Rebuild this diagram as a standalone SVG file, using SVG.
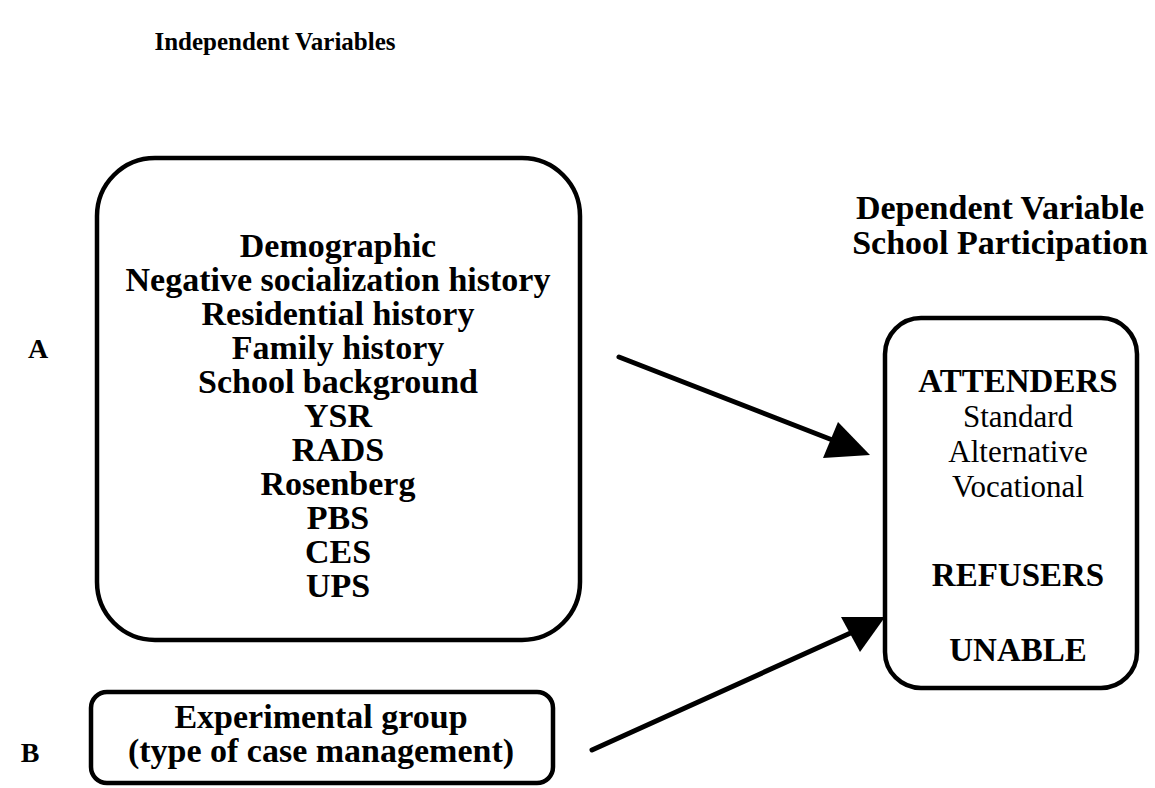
<svg xmlns="http://www.w3.org/2000/svg" width="1155" height="788" viewBox="0 0 1155 788">
<style>
.box{fill:none;stroke:#000;stroke-width:4.5}
.con{stroke:#000;stroke-width:5;fill:none;stroke-linecap:round}
.b{font-family:"Liberation Serif","Times New Roman",serif;font-weight:bold;fill:#000;text-anchor:middle}
.r{font-family:"Liberation Serif","Times New Roman",serif;fill:#000;text-anchor:middle}
</style>
<rect width="1155" height="788" fill="#fff"/>
<text class="b" x="275" y="50" font-size="25">Independent Variables</text>
<text class="b" x="1000" y="219" font-size="34">Dependent Variable</text>
<text class="b" x="1000" y="254" font-size="34">School Participation</text>
<text class="b" x="38" y="358" font-size="28">A</text>
<text class="b" x="30" y="762" font-size="28">B</text>
<g id="nodeA">
<rect class="box" x="97" y="158" width="483" height="482" rx="58" ry="58"/>
<g class="b" font-size="34">
<text x="338" y="257">Demographic</text>
<text x="338" y="291">Negative socialization history</text>
<text x="338" y="325">Residential history</text>
<text x="338" y="359">Family history</text>
<text x="338" y="393">School background</text>
<text x="338" y="427">YSR</text>
<text x="338" y="461">RADS</text>
<text x="338" y="495">Rosenberg</text>
<text x="338" y="529">PBS</text>
<text x="338" y="563">CES</text>
<text x="338" y="597">UPS</text>
</g>
</g>
<g id="nodeB">
<rect class="box" x="91" y="692" width="462" height="91" rx="16" ry="16"/>
<text class="b" x="321" y="728" font-size="34">Experimental group</text>
<text class="b" x="321" y="762" font-size="34">(type of case management)</text>
</g>
<g id="nodeDV">
<rect class="box" x="885" y="318" width="252" height="370" rx="36" ry="36"/>
<text class="b" x="1018" y="392" font-size="33">ATTENDERS</text>
<text class="r" x="1018" y="427" font-size="31">Standard</text>
<text class="r" x="1018" y="462" font-size="31">Alternative</text>
<text class="r" x="1018" y="497" font-size="31">Vocational</text>
<text class="b" x="1018" y="586" font-size="33">REFUSERS</text>
<text class="b" x="1018" y="661" font-size="33">UNABLE</text>
</g>
<g id="connectors">
<line class="con" x1="619" y1="357" x2="835" y2="441"/>
<polygon points="870,455 838,422 823,458" fill="#000"/>
<line class="con" x1="592" y1="750" x2="855" y2="631"/>
<polygon points="885,617 841,617 860,652" fill="#000"/>
</g>
</svg>
